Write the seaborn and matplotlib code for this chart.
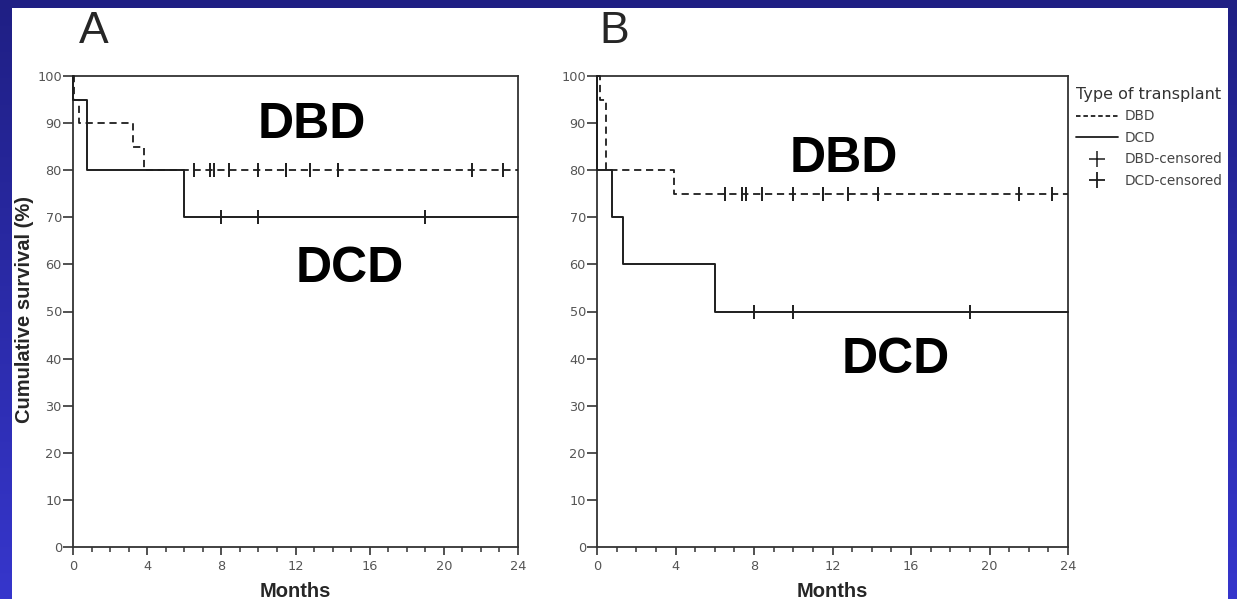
import numpy as np
import matplotlib
matplotlib.use("Agg")
import matplotlib.pyplot as plt
from matplotlib.lines import Line2D
import seaborn as sns

# ---------------- data ----------------
months_ticks = [0, 4, 8, 12, 16, 20, 24]
surv_ticks = [0, 10, 20, 30, 40, 50, 60, 70, 80, 90, 100]

# Panel A: step curves (time in months, cumulative survival %)
a_dbd_time = [0.0, 0.05, 0.3, 3.25, 3.85, 24.0]
a_dbd_surv = [100, 95, 90, 85, 80, 80]
a_dcd_time = [0.0, 0.02, 0.75, 6.0, 24.0]
a_dcd_surv = [100, 95, 80, 70, 70]

# Panel B
b_dbd_time = [0.0, 0.15, 0.45, 3.9, 24.0]
b_dbd_surv = [100, 95, 80, 75, 75]
b_dcd_time = [0.0, 0.02, 0.75, 1.35, 6.0, 24.0]
b_dcd_surv = [100, 80, 70, 60, 50, 50]

# censored observations (months)
dbd_censored = [6.5, 7.4, 7.6, 8.4, 10.0, 11.5, 11.5, 12.8, 14.3, 14.3, 21.5, 23.2]
dcd_censored = [8.0, 10.0, 19.0]

legend_title = "Type of transplant"
legend_labels = ["DBD", "DCD", "DBD-censored", "DCD-censored"]

# ---------------- style ----------------
sns.set_style("ticks")
plt.rcParams["font.family"] = ["Liberation Sans", "DejaVu Sans"]

W, H = 1237, 599
fig = plt.figure(figsize=(W / 100, H / 100), dpi=100)
fig.patch.set_facecolor("white")

LINE = "#1e1e1e"
SPINE = "#333333"


def level_at(times, surv, t):
    idx = np.searchsorted(np.asarray(times), t, side="right") - 1
    return np.asarray(surv)[idx]


def draw_panel(ax, dbd_t, dbd_s, dcd_t, dcd_s):
    sns.lineplot(x=dbd_t, y=dbd_s, ax=ax, drawstyle="steps-post", estimator=None,
                 sort=False, color=LINE, linewidth=1.3, linestyle=(0, (4, 2.6)),
                 clip_on=False, zorder=3)
    sns.lineplot(x=dcd_t, y=dcd_s, ax=ax, drawstyle="steps-post", estimator=None,
                 sort=False, color=LINE, linewidth=1.4, clip_on=False, zorder=3)
    cy1 = [level_at(dbd_t, dbd_s, t) for t in dbd_censored]
    cy2 = [level_at(dcd_t, dcd_s, t) for t in dcd_censored]
    sns.scatterplot(x=dbd_censored, y=cy1, ax=ax, marker="|", s=110, color=LINE,
                    linewidth=1.4, zorder=4, clip_on=False)
    sns.scatterplot(x=dcd_censored, y=cy2, ax=ax, marker="|", s=110, color=LINE,
                    linewidth=1.4, zorder=4, clip_on=False)
    ax.set_xlim(0, 24)
    ax.set_ylim(0, 100)
    ax.set_xticks(months_ticks)
    ax.set_xticks(range(0, 25), minor=True)
    ax.set_yticks(surv_ticks)
    for sp in ax.spines.values():
        sp.set_visible(True)
        sp.set_color(SPINE)
        sp.set_linewidth(1.3)
    ax.tick_params(axis="y", which="major", direction="out", length=7, width=1.2,
                   color=SPINE, labelcolor="#555555", labelsize=9.3, pad=1)
    ax.tick_params(axis="x", which="major", direction="out", length=6, width=1.2,
                   color=SPINE, labelcolor="#555555", labelsize=9.3, pad=3.5)
    ax.tick_params(axis="x", which="minor", direction="out", length=3.5, width=1.1,
                   color=SPINE)
    for lab in ax.get_xticklabels() + ax.get_yticklabels():
        lab.set_fontfamily("DejaVu Sans")
    ax.set_xlabel("")
    ax.set_ylabel("")
    ax.set_facecolor("white")


axA = fig.add_axes([73 / W, 1 - 547 / H, (518 - 73) / W, (547 - 76) / H])
axB = fig.add_axes([597 / W, 1 - 547 / H, (1068 - 597) / W, (547 - 76) / H])
draw_panel(axA, a_dbd_time, a_dbd_surv, a_dcd_time, a_dcd_surv)
draw_panel(axB, b_dbd_time, b_dbd_surv, b_dcd_time, b_dcd_surv)

# big annotations
big = dict(fontsize=36, fontweight="bold", color="black", ha="center", va="baseline")
axA.text(12.9, 86.8, "DBD", **big)
axA.text(14.9, 56.3, "DCD", **big)
axB.text(12.6, 79.6, "DBD", **big)
axB.text(15.2, 36.9, "DCD", **big)

# panel letters
fig.text(79 / W, 1 - 43 / H, "A", fontsize=32, ha="left", va="baseline")
fig.text(599 / W, 1 - 43 / H, "B", fontsize=32, ha="left", va="baseline")

# axis labels
fig.text(24 / W, 1 - 309 / H, "Cumulative survival (%)", rotation=90, ha="center",
         va="center", fontsize=14.5, fontweight="bold")
fig.text(295.5 / W, 1 - 597 / H, "Months", ha="center", va="baseline",
         fontsize=14.5, fontweight="bold")
fig.text(832.5 / W, 1 - 597 / H, "Months", ha="center", va="baseline",
         fontsize=14.5, fontweight="bold")

# legend
handles = [
    Line2D([], [], color=LINE, linewidth=1.3, linestyle=(0, (2.5, 1.6))),
    Line2D([], [], color=LINE, linewidth=1.3),
    Line2D([], [], color=LINE, marker="+", markersize=11, markeredgewidth=1.1,
           linestyle="none"),
    Line2D([], [], color=LINE, marker="+", markersize=11, markeredgewidth=1.3,
           linestyle="none"),
]
leg = fig.legend(handles, legend_labels, title=legend_title, loc="upper left",
                 bbox_to_anchor=(1076 / W, 1 - 87 / H), frameon=False,
                 prop={"family": "DejaVu Sans", "size": 9.8},
                 title_fontproperties={"family": "DejaVu Sans", "size": 11.5},
                 borderaxespad=0, borderpad=0,
                 handlelength=3.1, handletextpad=0.45, labelspacing=0.55,
                 alignment="left")
for t in leg.get_texts():
    t.set_color("#444444")
leg.get_title().set_color("#333333")

# blue slide border drawn on top (clips the legend title like the reference)
overlay = fig.add_axes([0, 0, 1, 1], zorder=100)
overlay.set_axis_off()
top_c = np.array([0x1f, 0x1f, 0x84]) / 255
bot_c = np.array([0x36, 0x36, 0xcc]) / 255
yy = np.linspace(0, 1, H)[:, None]
rgb = top_c[None, None, :] * (1 - yy[..., None]) + bot_c[None, None, :] * yy[..., None]
img = np.zeros((H, W, 4))
img[..., :3] = np.broadcast_to(rgb, (H, W, 3))
alpha = np.ones((H, W))
alpha[8:, 12:1228] = 0.0
img[..., 3] = alpha
overlay.imshow(img, extent=(0, W, H, 0), aspect="auto", interpolation="nearest")
overlay.set_xlim(0, W)
overlay.set_ylim(H, 0)

fig.savefig("out.png", dpi=100)
